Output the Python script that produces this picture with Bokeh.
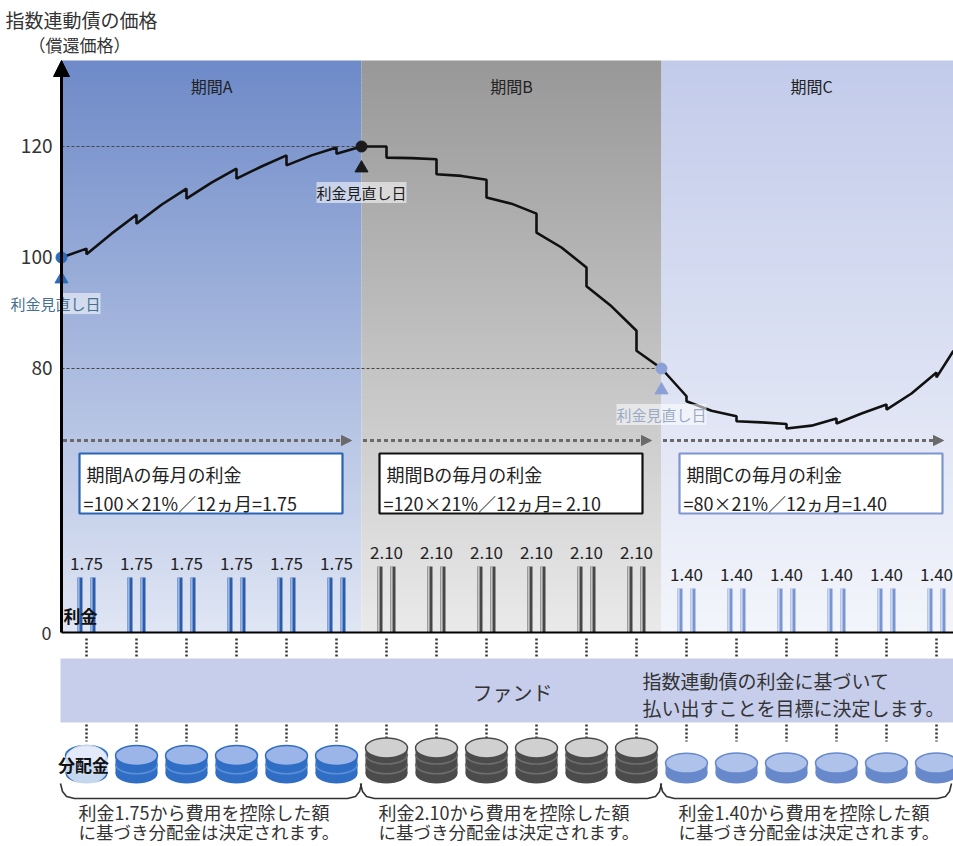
import numpy as np
from bokeh.plotting import figure
from bokeh.models import Range1d, Arrow, NormalHead, Label
from bokeh.core.properties import value
from bokeh.embed import file_html
from bokeh.resources import INLINE

FONT = "Noto Sans CJK JP"

# ---------------- data ----------------
PERIOD_NAMES = ["期間A", "期間B", "期間C"]
PERIOD_START = [0, 6, 12]          # month
PERIOD_END = [6, 12, 18]
BASE_PRICE = [100, 120, 80]        # price at each rate-reset date
MONTHLY_INTEREST = [1.75, 2.10, 1.40]
BOX_LINE1 = ["期間Aの毎月の利金", "期間Bの毎月の利金", "期間Cの毎月の利金"]
BOX_LINE2 = ["=100×21%／12ヵ月=1.75", "=120×21%／12ヵ月= 2.10", "=80×21%／12ヵ月=1.40"]
BOTTOM_LINE1 = ["利金1.75から費用を控除した額", "利金2.10から費用を控除した額", "利金1.40から費用を控除した額"]
BOTTOM_LINE2 = ["に基づき分配金は決定されます。"] * 3

PAY_MONTHS = [0.5, 1.5, 2.5, 3.5, 4.5, 5.5, 6.5, 7.5, 8.5, 9.5, 10.5, 11.5,
              12.5, 13.5, 14.5, 15.5, 16.5, 17.5]
INTEREST = [1.75, 1.75, 1.75, 1.75, 1.75, 1.75,
            2.10, 2.10, 2.10, 2.10, 2.10, 2.10,
            1.40, 1.40, 1.40, 1.40, 1.40, 1.40]

PRICE_MONTH = [0, 0.5, 0.5, 1, 1.5, 1.5, 2, 2.5, 2.5, 3, 3.5, 3.5, 4, 4.5, 4.5, 5, 5.5, 5.5, 6,
               6.5, 6.5, 7, 7.5, 7.5, 8, 8.5, 8.5, 9, 9.5, 9.5, 10, 10.5, 10.5, 11, 11.5, 11.5, 12,
               12.5, 12.5, 13, 13.5, 13.5, 14, 14.5, 14.5, 15, 15.5, 15.5, 16, 16.5, 16.5, 17,
               17.5, 17.5, 17.84]
PRICE_VALUE = [100.0, 101.6, 100.6, 104.3, 107.7, 106.1, 109.5, 112.4, 110.6, 113.5, 116.0, 114.2,
               116.4, 118.4, 116.6, 118.4, 119.8, 118.7, 120.0,
               120.0, 118.0, 117.9, 117.7, 115.0, 114.7, 114.0, 110.8, 109.7, 107.9, 104.5, 101.8,
               98.2, 94.8, 91.2, 86.8, 83.2, 80.0,
               75.0, 74.1, 72.4, 71.4, 70.5, 70.3, 70.0, 69.2, 69.7, 71.0, 70.1, 71.9, 73.5, 72.6,
               75.5, 79.3, 78.4, 83.2]
PRICE_TICKS = [80, 100, 120]

# ---------------- styles ----------------
BG_TOP = [(110, 138, 200), (152, 152, 152), (194, 203, 234)]
BG_BOT = [(224, 230, 244), (234, 234, 234), (243, 245, 251)]
BOX_COLOR = ["#2a64b4", "#111111", "#7d95d0"]
BAR_DARK = ["#2a5cab", "#474747", "#7a94d4"]
BAR_LIGHT = ["#9ab6e4", "#c4c4c4", "#cdd8f1"]
COIN_BODY = ["#2f6ec4", "#4b4b4b", "#6888cc"]
COIN_TOP = ["#9cb5e8", "#d0d0d0", "#aec2ea"]
COIN_STRIPE = ["#5d8fd6", "#6e6e6e", "#85a0d8"]
RESET_COLOR = ["#2b6cb8", "#1a1a1a", "#8aa0d6"]
RESET_TEXT = ["#45708f", "#1a1a1a", "#9aaac6"]


def period_of(m):
    for i in range(3):
        if PERIOD_START[i] <= m < PERIOD_END[i]:
            return i
    return 2


def mix(c1, c2, t):
    return "#%02x%02x%02x" % tuple(int(round(a + (b - a) * t)) for a, b in zip(c1, c2))


W, H = 953, 846
p = figure(width=W, height=H, title=None,
           x_range=Range1d(-1.22, 17.84), y_range=Range1d(-6.126, 146.306),
           output_backend="svg", toolbar_location=None, tools="",
           min_border=0, x_axis_location=None, y_axis_location=None,
           outline_line_color=None, background_fill_color="white",
           border_fill_color="white")
p.grid.grid_line_color = None
p.extra_y_ranges = {"px": Range1d(H, 0),
                    "interest": Range1d(-6.815, 20.127),
                    "coin": Range1d(-2.903, 36.083)}
p.extra_x_ranges = {"pxx": Range1d(0, W)}


def txt(x, y, s, size, color="#222222", align="left", bold=False, xr="default", yr="px", **kw):
    p.text(x=[x], y=[y], text=[s], text_font=value(FONT), text_font_size=f"{size}px",
           text_color=color, text_align=align, text_baseline="middle",
           text_font_style="bold" if bold else "normal",
           x_range_name=xr, y_range_name=yr, **kw)


# ---- period backgrounds (vertical gradients) ----
L, R, B, T, C = [], [], [], [], []
ys = np.arange(60, 632, 4)
for i in range(3):
    for y in ys:
        t = (y - 60) / (632 - 60)
        L.append(PERIOD_START[i]); R.append(PERIOD_END[i])
        T.append(y); B.append(min(y + 4.6, 632))
        C.append(mix(BG_TOP[i], BG_BOT[i], t))
p.quad(left=L, right=R, top=T, bottom=B, fill_color=C, line_color=None, y_range_name="px")

# ---- titles ----
txt(-1.12, 19, "指数連動債の価格", 19, color="#333333")
txt(-0.66, 44, "（償還価格）", 17, color="#333333")
for i in range(3):
    txt((PERIOD_START[i] + PERIOD_END[i]) / 2, 85, PERIOD_NAMES[i], 16, align="center")

# ---- dashed reference lines ----
p.segment(x0=[0, 0], x1=[PERIOD_START[1], PERIOD_START[2]], y0=BASE_PRICE[1:], y1=BASE_PRICE[1:],
          line_color="#444444", line_width=1, line_dash="3 2")

# ---- price line ----
p.line(PRICE_MONTH, PRICE_VALUE, line_color="#111111", line_width=2.6)

# ---- reset markers ----
p.scatter(x=PERIOD_START, y=BASE_PRICE, size=11, color=RESET_COLOR, marker="circle")
p.scatter(x=PERIOD_START, y=[b - 3.9 for b in BASE_PRICE], size=13, color=RESET_COLOR,
          marker="triangle")
for i in range(3):
    lab = Label(x=PERIOD_START[i], y=BASE_PRICE[i] - 8.3, text="利金見直し日",
                text_font=FONT, text_font_size="15px", text_color=RESET_TEXT[i],
                text_align="center", text_baseline="middle",
                x_offset=(-6 if i == 0 else 0),
                background_fill_color="white", background_fill_alpha=0.55)
    p.add_layout(lab)

# ---- y axis ----
p.add_layout(Arrow(end=NormalHead(size=16, fill_color="black", line_color="black"),
                   x_start=0, y_start=632, x_end=0, y_end=60, line_width=3,
                   line_color="black", y_range_name="px"))
p.text(x=[-0.18] * 3, y=PRICE_TICKS, text=[str(v) for v in PRICE_TICKS],
       text_font=value(FONT), text_font_size="19px", text_color="#333333",
       text_align="right", text_baseline="middle")
p.text(x=[-0.2], y=[0], text=["0"], text_font=value(FONT), text_font_size="18px",
       text_color="#333333", text_align="right", text_baseline="middle",
       y_range_name="interest")

# ---- dotted period arrows ----
for i in range(3):
    end = min(PERIOD_END[i], 17.84) - 0.2
    p.add_layout(Arrow(end=NormalHead(size=10, fill_color="#6a6a6a", line_color="#6a6a6a"),
                       x_start=PERIOD_START[i] + 0.03, y_start=440, x_end=end, y_end=440,
                       line_width=3, line_color="#6a6a6a", line_dash="4 3",
                       y_range_name="px"))

# ---- formula boxes ----
p.quad(left=[s + 0.36 for s in PERIOD_START], right=[s + 5.62 for s in PERIOD_START],
       top=[453] * 3, bottom=[513] * 3, fill_color="white", line_color=BOX_COLOR,
       line_width=2.2, y_range_name="px")
for i in range(3):
    txt(PERIOD_START[i] + 0.5, 473, BOX_LINE1[i], 18)
    txt(PERIOD_START[i] + 0.44, 502, BOX_LINE2[i], 18)

# ---- interest bars ----
per = [period_of(m) for m in PAY_MONTHS]
for off in (-0.13, 0.13):
    p.vbar(x=[m + off for m in PAY_MONTHS], top=INTEREST, bottom=0, width=0.1,
           fill_color=[BAR_DARK[k] for k in per], line_color=None, y_range_name="interest")
    p.vbar(x=[m + off - 0.025 for m in PAY_MONTHS], top=INTEREST, bottom=0, width=0.035,
           fill_color=[BAR_LIGHT[k] for k in per], line_color=None, y_range_name="interest")
p.text(x=PAY_MONTHS, y=INTEREST, text=[f"{v:.2f}" for v in INTEREST],
       text_font=value(FONT), text_font_size="17px", text_color="#222222",
       text_align="center", text_baseline="middle", y_offset=-14, y_range_name="interest")
p.segment(x0=[0], x1=[17.84], y0=[0], y1=[0], line_color="black", line_width=2,
          y_range_name="interest")
txt(0.04, 615, "利金", 17, bold=True, color="#111111")

# ---- connectors ----
p.segment(x0=PAY_MONTHS, x1=PAY_MONTHS, y0=[638] * 18, y1=[656] * 18, line_color="#333333",
          line_width=2.5, line_dash="2 2", y_range_name="px")
p.segment(x0=PAY_MONTHS, x1=PAY_MONTHS, y0=[724] * 18, y1=[741] * 18, line_color="#333333",
          line_width=2.5, line_dash="2 2", y_range_name="px")

# ---- fund band ----
p.quad(left=[-0.02], right=[18], top=[658], bottom=[722], fill_color="#c7ceeb",
       line_color=None, y_range_name="px")
txt(9.02, 692, "ファンド", 20, align="center", color="#333333")
txt(11.62, 680, "指数連動債の利金に基づいて", 19, color="#333333")
txt(11.62, 707, "払い出すことを目標に決定します。", 19, color="#333333")

# ---- coins ----
hw = 0.84
eh = 0.92
p.quad(left=[m - hw / 2 for m in PAY_MONTHS], right=[m + hw / 2 for m in PAY_MONTHS],
       bottom=[eh / 2] * 18, top=[v - eh / 2 for v in INTEREST],
       fill_color=[COIN_BODY[k] for k in per], line_color=None, y_range_name="coin")
p.ellipse(x=PAY_MONTHS, y=[eh / 2] * 18, width=hw, height=eh,
          fill_color=[COIN_BODY[k] for k in per], line_color=None, y_range_name="coin")
sx0, sy, sc = [], [], []
for m, v, k in zip(PAY_MONTHS, INTEREST, per):
    lev = eh / 2 + 0.45
    while lev < v - eh / 2 - 0.1:
        sx0.append(m); sy.append(lev); sc.append(COIN_STRIPE[k])
        lev += 0.45
p.bezier(x0=[m - hw / 2 for m in sx0], y0=sy, x1=[m + hw / 2 for m in sx0], y1=sy,
         cx0=[m - hw / 2 for m in sx0], cy0=[y - 0.61 for y in sy],
         cx1=[m + hw / 2 for m in sx0], cy1=[y - 0.61 for y in sy],
         line_color=sc, line_width=1.5, y_range_name="coin")
p.ellipse(x=PAY_MONTHS, y=[v - eh / 2 for v in INTEREST], width=hw, height=eh,
          fill_color=[COIN_TOP[k] for k in per], line_color=[COIN_BODY[k] for k in per],
          line_width=1.5, y_range_name="coin")
# ghosted first coin with label
p.ellipse(x=[PAY_MONTHS[0]], y=[INTEREST[0] / 2], width=hw + 0.06, height=INTEREST[0] + 0.1,
          fill_color="white", fill_alpha=0.72, line_color=None, y_range_name="coin")
txt(0.44, 764, "分配金", 17, bold=True, color="#111111", align="center")

# ---- braces ----
bx, by = [], []
for i in range(3):
    x0 = PERIOD_START[i] - 0.02
    x1 = min(PERIOD_END[i], 17.8)
    bx.append([x0, x0 + 0.04, x0 + 0.12, x0 + 0.28, x1 - 0.28, x1 - 0.12, x1 - 0.04, x1])
    by.append([783, 791, 796, 798, 798, 796, 791, 783])
p.multi_line(xs=bx, ys=by, line_color="#333333", line_width=1.6, y_range_name="px")
for i in range(3):
    txt(PERIOD_START[i] + 0.34, 811, BOTTOM_LINE1[i], 18, color="#333333")
    txt(PERIOD_START[i] + 0.34, 831, BOTTOM_LINE2[i], 17.5, color="#333333")

open("out.html", "w").write(file_html(p, INLINE))
